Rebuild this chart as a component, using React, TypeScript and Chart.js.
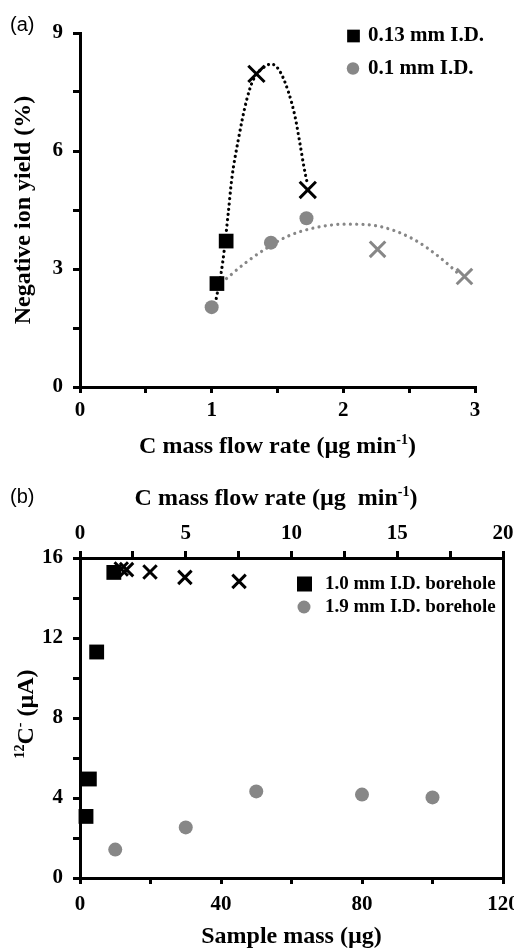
import React, { useEffect, useRef } from 'react';
import { Chart, registerables } from 'chart.js';

Chart.register(...registerables);

const SERIF = "'Liberation Serif', 'Times New Roman', Times, serif";
const SANS = "'Liberation Sans', Arial, Helvetica, sans-serif";
const BLACK = '#000000';
const GRAY = '#878787';

// ---------- Panel (a) data ----------
const flowSquaresA = [1.04, 1.11];
const yieldSquaresA = [2.63, 3.71];
const flowBlackCrossA = [1.34, 1.73];
const yieldBlackCrossA = [7.96, 5.01];
const flowCirclesA = [1.0, 1.45, 1.72];
const yieldCirclesA = [2.03, 3.67, 4.29];
const flowGrayCrossA = [2.26, 2.92];
const yieldGrayCrossA = [3.5, 2.81];
const trendBlackFlowA = [1.035, 1.083, 1.126, 1.152, 1.202, 1.266, 1.316, 1.405, 1.455, 1.519, 1.582, 1.633, 1.67, 1.7, 1.726];
const trendBlackYieldA = [2.25, 3.15, 4.42, 5.27, 6.28, 7.3, 7.81, 8.15, 8.21, 8.02, 7.51, 6.88, 6.2, 5.61, 5.18];
const trendGrayFlowA = [1.04, 1.266, 1.418, 1.569, 1.772, 2.025, 2.278, 2.531, 2.734, 2.885];
const trendGrayYieldA = [2.55, 3.18, 3.53, 3.82, 4.04, 4.14, 4.08, 3.76, 3.29, 2.85];
const xTicksA = [0, 0.5, 1, 1.5, 2, 2.5, 3];
const xLabelsA = [0, 1, 2, 3];
const yTicksA = [0, 1.5, 3, 4.5, 6, 7.5, 9];
const yLabelsA = [0, 3, 6, 9];

// ---------- Panel (b) data ----------
const massSquaresB = [1.7, 2.65, 4.73, 9.6];
const currentSquaresB = [3.08, 4.95, 11.3, 15.28];
const flowCrossB = [1.95, 2.2, 3.31, 4.96, 7.52];
const currentCrossB = [15.45, 15.42, 15.3, 15.03, 14.83];
const massCirclesB = [10, 30, 50, 80, 100];
const currentCirclesB = [1.42, 2.53, 4.33, 4.17, 4.03];
const xTicksB = [0, 20, 40, 60, 80, 100, 120];
const xLabelsB = [0, 40, 80, 120];
const x2TicksB = [0, 2.5, 5, 7.5, 10, 12.5, 15, 17.5, 20];
const x2LabelsB = [0, 5, 10, 15, 20];
const yTicksB = [0, 2, 4, 6, 8, 10, 12, 14, 16];
const yLabelsB = [0, 4, 8, 12, 16];

const pts = (xs: number[], ys: number[]) => xs.map((x, i) => ({ x, y: ys[i] }));

function axis(o: any) {
  return {
    type: 'linear',
    position: o.position,
    min: o.min,
    max: o.max,
    afterBuildTicks: (s: any) => {
      s.ticks = o.ticks.map((v: number) => ({ value: v }));
    },
    afterFit: (s: any) => {
      if (o.position === 'left' || o.position === 'right') s.width = o.size;
      else s.height = o.size;
      s.paddingLeft = 0;
      s.paddingRight = 0;
      s.paddingTop = 0;
      s.paddingBottom = 0;
    },
    ticks: {
      display: o.showLabels !== false,
      autoSkip: false,
      maxRotation: 0,
      padding: o.padding ?? 6,
      color: BLACK,
      font: { family: SERIF, size: 21, weight: 'bold', lineHeight: 1.2 },
      callback: (v: any) => (o.labels && o.labels.includes(Number(v)) ? String(v) : ''),
    },
    grid: {
      display: true,
      drawOnChartArea: false,
      drawTicks: true,
      tickLength: o.tickLength ?? 6,
      tickWidth: 3,
      tickColor: BLACK,
      color: BLACK,
      lineWidth: 3,
    },
    border: { display: true, color: BLACK, width: 3 },
    title: o.title
      ? {
          display: true,
          text: o.title,
          color: BLACK,
          font: { family: SERIF, size: 24, weight: 'bold', lineHeight: 1.2 },
          padding: o.titlePadding,
        }
      : { display: false },
  };
}

// Axis titles that need superscripts
function makeRichTitles(items: any[]) {
  return {
    id: 'richTitles',
    afterDraw(chart: any) {
      const ctx = chart.ctx;
      items.forEach((it) => {
        const main = `bold ${it.size}px ${SERIF}`;
        const sup = `bold ${Math.round(it.size * 0.6)}px ${SERIF}`;
        ctx.save();
        ctx.translate(it.x, it.y);
        if (it.rotation) ctx.rotate(it.rotation);
        ctx.fillStyle = BLACK;
        ctx.textAlign = 'left';
        ctx.textBaseline = 'alphabetic';
        let total = 0;
        it.parts.forEach((p: any) => {
          ctx.font = p.sup ? sup : main;
          total += ctx.measureText(p.t).width;
        });
        let x = -total / 2;
        const base = it.size * 0.33;
        it.parts.forEach((p: any) => {
          ctx.font = p.sup ? sup : main;
          ctx.fillText(p.t, x, p.sup ? base - it.size * 0.36 : base);
          x += ctx.measureText(p.t).width;
        });
        ctx.restore();
      });
    },
  };
}

function makeLegend(items: any[]) {
  return {
    id: 'manualLegend',
    afterDraw(chart: any) {
      const ctx = chart.ctx;
      items.forEach((it) => {
        const ds = chart.data.datasets[it.dataset];
        ctx.save();
        ctx.fillStyle = ds.backgroundColor;
        if (it.shape === 'rect') {
          ctx.fillRect(it.mx - it.size / 2, it.my - it.size / 2, it.size, it.size);
        } else {
          ctx.beginPath();
          ctx.arc(it.mx, it.my, it.size / 2, 0, Math.PI * 2);
          ctx.fill();
        }
        ctx.fillStyle = BLACK;
        ctx.font = `bold ${it.font}px ${SERIF}`;
        ctx.textAlign = 'left';
        ctx.textBaseline = 'middle';
        ctx.fillText(ds.label, it.tx, it.my);
        ctx.restore();
      });
    },
  };
}

function dotted(label: string, xs: number[], ys: number[], color: string, gap: number) {
  return {
    label,
    data: pts(xs, ys),
    showLine: true,
    pointRadius: 0,
    borderColor: color,
    backgroundColor: color,
    borderWidth: 3.2,
    borderDash: [0.01, gap],
    borderCapStyle: 'round',
    cubicInterpolationMode: 'monotone',
    fill: false,
    clip: false,
  };
}

function configA() {
  return {
    type: 'scatter',
    data: {
      datasets: [
        { label: '0.13 mm I.D.', data: pts(flowSquaresA, yieldSquaresA), pointStyle: 'rect', pointRadius: 10.4, backgroundColor: BLACK, borderWidth: 0, clip: false },
        { label: '0.1 mm I.D.', data: pts(flowCirclesA, yieldCirclesA), pointStyle: 'circle', pointRadius: 7, backgroundColor: GRAY, borderWidth: 0, clip: false },
        { label: '0.13 mm I.D. (cross)', data: pts(flowBlackCrossA, yieldBlackCrossA), pointStyle: 'crossRot', pointRadius: 11.5, borderColor: BLACK, backgroundColor: BLACK, borderWidth: 3, clip: false },
        { label: '0.1 mm I.D. (cross)', data: pts(flowGrayCrossA, yieldGrayCrossA), pointStyle: 'crossRot', pointRadius: 11, borderColor: GRAY, backgroundColor: GRAY, borderWidth: 3, clip: false },
        dotted('0.13 mm trend', trendBlackFlowA, trendBlackYieldA, BLACK, 5.3),
        dotted('0.1 mm trend', trendGrayFlowA, trendGrayYieldA, GRAY, 6.3),
      ],
    },
    options: {
      responsive: false,
      animation: false,
      devicePixelRatio: 1,
      layout: { padding: { top: 33, right: 47, left: 0, bottom: 0 } },
      plugins: { legend: { display: false }, tooltip: { enabled: false } },
      scales: {
        x: axis({ position: 'bottom', min: 0, max: 3, ticks: xTicksA, labels: xLabelsA, size: 73, tickLength: 6, padding: 5 }),
        y: axis({ position: 'left', min: 0, max: 9, ticks: yTicksA, labels: yLabelsA, size: 80, tickLength: 7, padding: 10, title: 'Negative ion yield (%)', titlePadding: { top: 9, bottom: 0 } }),
      },
    },
    plugins: [
      makeRichTitles([
        { x: 277.5, y: 445, size: 24, parts: [{ t: 'C mass flow rate (µg min' }, { t: '-1', sup: true }, { t: ')' }] },
      ]),
      makeLegend([
        { dataset: 0, shape: 'rect', mx: 353.5, my: 36, size: 12.7, tx: 368, font: 21 },
        { dataset: 1, shape: 'circle', mx: 353, my: 68.5, size: 12.5, tx: 368, font: 21 },
      ]),
    ],
  };
}

function configB() {
  return {
    type: 'scatter',
    data: {
      datasets: [
        { label: '1.0 mm I.D. borehole', data: pts(massSquaresB, currentSquaresB), xAxisID: 'x', pointStyle: 'rect', pointRadius: 10.5, backgroundColor: BLACK, borderWidth: 0, clip: false },
        { label: '1.9 mm I.D. borehole', data: pts(massCirclesB, currentCirclesB), xAxisID: 'x', pointStyle: 'circle', pointRadius: 7, backgroundColor: GRAY, borderWidth: 0, clip: false },
        { label: '1.0 mm I.D. borehole (flow rate)', data: pts(flowCrossB, currentCrossB), xAxisID: 'x2', pointStyle: 'crossRot', pointRadius: 9.5, borderColor: BLACK, backgroundColor: BLACK, borderWidth: 3, clip: false },
      ],
    },
    options: {
      responsive: false,
      animation: false,
      devicePixelRatio: 1,
      layout: { padding: { top: 0, right: 0, left: 0, bottom: 0 } },
      plugins: { legend: { display: false }, tooltip: { enabled: false } },
      scales: {
        x: axis({ position: 'bottom', min: 0, max: 120, ticks: xTicksB, labels: xLabelsB, size: 74, tickLength: 6, padding: 8, title: 'Sample mass (µg)', titlePadding: { top: 0, bottom: 1 } }),
        x2: axis({ position: 'top', min: 0, max: 20, ticks: x2TicksB, labels: x2LabelsB, size: 98, tickLength: 7, padding: 5 }),
        y: axis({ position: 'left', min: 0, max: 16, ticks: yTicksB, labels: yLabelsB, size: 80, tickLength: 7, padding: 10 }),
        y2: axis({ position: 'right', min: 0, max: 16, ticks: [], labels: [], size: 19, showLabels: false, tickLength: 0 }),
      },
    },
    plugins: [
      makeRichTitles([
        { x: 276, y: 37, size: 24, parts: [{ t: 'C mass flow rate (µg  min' }, { t: '-1', sup: true }, { t: ')' }] },
        { x: 25, y: 254, size: 24, rotation: -Math.PI / 2, parts: [{ t: '12', sup: true }, { t: 'C' }, { t: '-', sup: true }, { t: ' (µA)' }] },
      ]),
      makeLegend([
        { dataset: 0, shape: 'rect', mx: 304.5, my: 124, size: 15, tx: 325, font: 19 },
        { dataset: 1, shape: 'circle', mx: 304, my: 147, size: 13, tx: 325, font: 19 },
      ]),
    ],
  };
}

function ChartCanvas({ config, height }: { config: () => any; height: number }) {
  const ref = useRef<HTMLCanvasElement | null>(null);
  useEffect(() => {
    if (!ref.current) return;
    const chart = new Chart(ref.current, config());
    return () => chart.destroy();
  }, []);
  return <canvas ref={ref} width={522} height={height} style={{ display: 'block', width: 522, height }} />;
}

export default function App() {
  const labelStyle: React.CSSProperties = {
    position: 'absolute',
    left: 10,
    fontFamily: SANS,
    fontSize: 20,
    lineHeight: '20px',
    color: BLACK,
    whiteSpace: 'nowrap',
  };
  return (
    <div style={{ position: 'relative', width: 522, height: 952, margin: '-8px 0 0 -8px', background: '#ffffff' }}>
      <ChartCanvas config={configA} height={460} />
      <ChartCanvas config={configB} height={492} />
      <span style={{ ...labelStyle, top: 14 }}>(a)</span>
      <span style={{ ...labelStyle, top: 486 }}>(b)</span>
    </div>
  );
}
